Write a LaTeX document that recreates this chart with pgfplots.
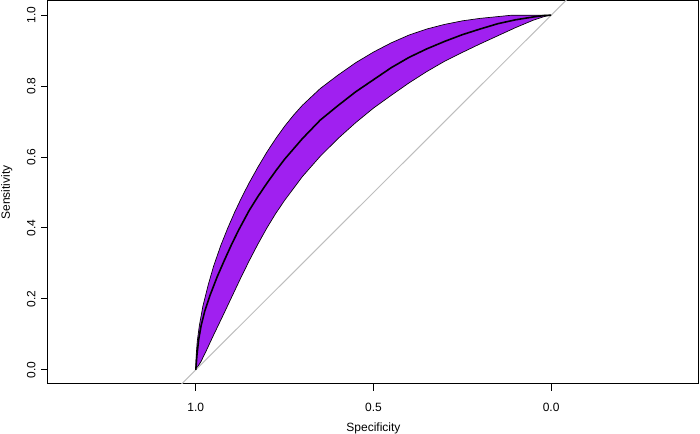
\documentclass[border=0pt]{standalone}
\usepackage{fontspec}
\setmainfont{Liberation Sans}
\usepackage{pgfplots}
\pgfplotsset{compat=1.18}
\definecolor{rpurple}{HTML}{A020F0}
\definecolor{rgrey}{HTML}{BEBEBE}
\newcommand{\lab}{\fontsize{9}{11}\selectfont}

\begin{document}
\begin{tikzpicture}
\path[use as bounding box] (-36pt,-37.5pt) rectangle (489pt,288pt);
\begin{axis}[scale only axis,width=488.25pt,height=287.25pt,
  x dir=reverse,xmin=-0.416,xmax=1.416,ymin=-0.04,ymax=1.04,
  axis line style={black,line width=0.75pt},
  tick style={black,line width=0.75pt},tick align=outside,tick pos=left,
  major tick length=5pt,
  xtick={0,0.5,1},xticklabels={0.0,0.5,1.0},
  ytick={0,0.2,0.4,0.6,0.8,1},yticklabels={0.0,0.2,0.4,0.6,0.8,1.0},
  xticklabel style={font=\lab,anchor=base,inner sep=0pt,yshift=-15.6pt},
  yticklabel style={font=\lab,xshift=-4.5pt,rotate=90,anchor=base,inner sep=0pt},
  xlabel={Specificity},ylabel={Sensitivity},
  xlabel style={font=\lab,at={(axis description cs:0.5,-0.1246)},anchor=base,inner sep=0pt},
  ylabel style={font=\lab,at={(axis description cs:-0.0584,0.5)},anchor=base,inner sep=0pt},
  clip=true]
% confidence band of sensitivity: upper edge (spec 1 -> 0), then lower edge (spec 0 -> 1)
\addplot[fill=rpurple,draw=black,line width=0.5pt,line join=round] coordinates {
 (1.000,0.000)(0.999,0.040)(0.996,0.080)(0.990,0.125)(0.980,0.180)(0.965,0.240)
 (0.950,0.292)(0.930,0.350)(0.910,0.400)(0.890,0.446)(0.870,0.488)(0.850,0.527)
 (0.825,0.572)(0.800,0.614)(0.775,0.652)(0.750,0.687)(0.725,0.718)(0.700,0.746)
 (0.650,0.793)(0.600,0.831)(0.550,0.866)(0.500,0.896)(0.450,0.922)(0.400,0.944)
 (0.350,0.961)(0.300,0.974)(0.250,0.984)(0.200,0.991)(0.150,0.996)(0.110,1.000)
 (0.000,1.000)
 (0.020,0.996)(0.050,0.986)(0.100,0.965)(0.150,0.942)(0.200,0.919)(0.250,0.895)
 (0.300,0.870)(0.350,0.841)(0.400,0.809)(0.450,0.774)(0.500,0.738)(0.550,0.697)
 (0.600,0.652)(0.650,0.602)(0.700,0.545)(0.750,0.478)(0.775,0.441)(0.800,0.400)
 (0.825,0.355)(0.850,0.307)(0.875,0.256)(0.900,0.203)(0.925,0.150)(0.950,0.098)
 (0.970,0.055)(0.985,0.024)(1.000,0.000)} -- cycle;
% chance diagonal
\addplot[rgrey,line width=0.75pt] coordinates {(1.5,-0.5)(-0.5,1.5)};
% ROC curve
\addplot[black,line width=1.2pt,line join=round] coordinates {
 (1.000,0.000)(0.997,0.040)(0.992,0.085)(0.985,0.125)(0.975,0.165)(0.960,0.210)
 (0.940,0.262)(0.920,0.308)(0.900,0.352)(0.880,0.393)(0.850,0.449)(0.825,0.489)
 (0.800,0.526)(0.775,0.561)(0.750,0.594)(0.700,0.652)(0.650,0.704)(0.600,0.745)
 (0.550,0.784)(0.500,0.818)(0.450,0.852)(0.400,0.881)(0.350,0.905)(0.300,0.926)
 (0.250,0.945)(0.200,0.961)(0.150,0.976)(0.100,0.987)(0.050,0.995)(0.020,0.999)
 (0.000,1.000)};
\end{axis}
\end{tikzpicture}
\end{document}
